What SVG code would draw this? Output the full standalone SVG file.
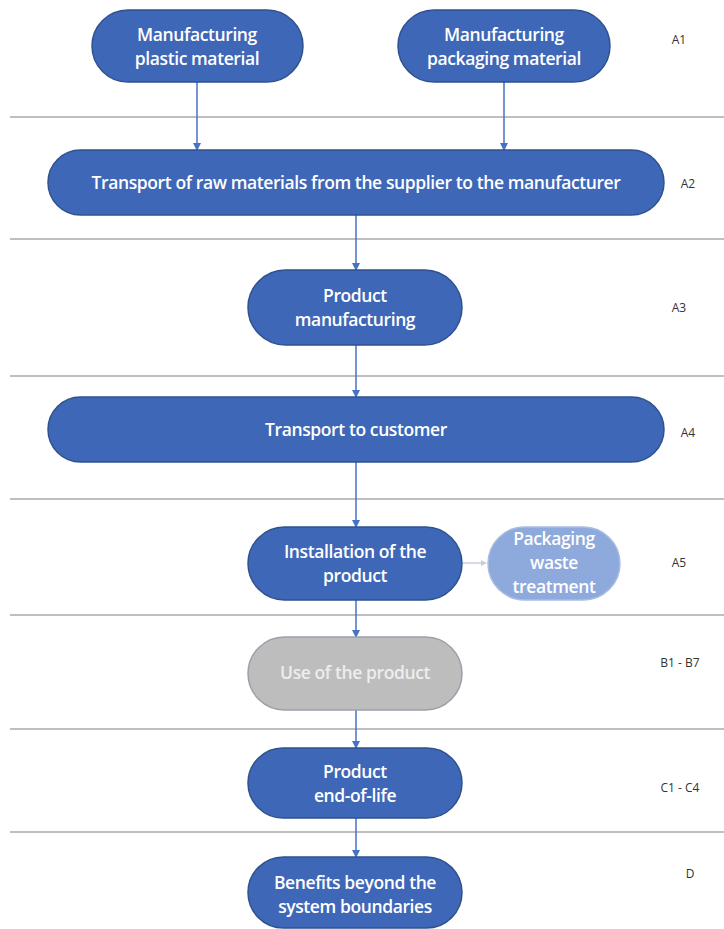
<svg xmlns="http://www.w3.org/2000/svg" width="724" height="929" viewBox="0 0 724 929">
<defs>
<marker id="ah" markerWidth="8" markerHeight="8" refX="7" refY="4" orient="auto" markerUnits="userSpaceOnUse">
<path d="M0,0 L8,4 L0,8 z" fill="#4472C4"/>
</marker>
<marker id="ahg" markerWidth="6" markerHeight="6" refX="5" refY="3" orient="auto" markerUnits="userSpaceOnUse">
<path d="M0,0 L6,3 L0,6 z" fill="#C9CFDA"/>
</marker>
</defs>
<style>
.pill{fill:#3F67B7;stroke:#2F528F;stroke-width:1.5}
.light{fill:#8EA9DB;stroke:#A9BDE3;stroke-width:1.5}
.grey{fill:#BDBDBD;stroke:#9AA0AA;stroke-width:1.5}
.t{font-family:"Open Sans","Liberation Sans",sans-serif;font-size:17.5px;font-weight:600;fill:#FFFFFF;text-anchor:middle;letter-spacing:-0.4px}
.tg{font-family:"Open Sans","Liberation Sans",sans-serif;font-size:17.5px;font-weight:600;fill:#EDEDED;text-anchor:middle;letter-spacing:-0.4px}
.lab{font-family:"Open Sans","Liberation Sans",sans-serif;font-size:12px;fill:#333333;text-anchor:middle}
.sep{stroke:#BFBFBF;stroke-width:2}
.c{stroke:#4472C4;stroke-width:1.5;fill:none;marker-end:url(#ah)}
.cg{stroke:#C9CFDA;stroke-width:1.5;fill:none;marker-end:url(#ahg)}
</style>
<rect width="724" height="929" fill="#FFFFFF"/>
<g id="separators">
<line class="sep" x1="10" y1="117" x2="724" y2="117"/>
<line class="sep" x1="10" y1="239" x2="724" y2="239"/>
<line class="sep" x1="10" y1="376" x2="724" y2="376"/>
<line class="sep" x1="10" y1="499" x2="724" y2="499"/>
<line class="sep" x1="10" y1="615" x2="724" y2="615"/>
<line class="sep" x1="10" y1="729" x2="724" y2="729"/>
<line class="sep" x1="10" y1="832" x2="724" y2="832"/>
</g>
<g id="connectors">
<line class="c" x1="197" y1="82" x2="197" y2="150"/>
<line class="c" x1="504" y1="82" x2="504" y2="150"/>
<line class="c" x1="356" y1="215" x2="356" y2="270"/>
<line class="c" x1="356" y1="345" x2="356" y2="397"/>
<line class="c" x1="356" y1="462" x2="356" y2="527"/>
<line class="c" x1="356" y1="600" x2="356" y2="637"/>
<line class="c" x1="356" y1="710" x2="356" y2="748"/>
<line class="c" x1="356" y1="818" x2="356" y2="857"/>
<line class="cg" x1="463" y1="563" x2="486" y2="563"/>
</g>
<g id="n1"><rect class="pill" x="92" y="10" width="211" height="72" rx="36"/>
<text class="t" x="197" y="41">Manufacturing</text><text class="t" x="197" y="65">plastic material</text></g>
<g id="n2"><rect class="pill" x="398" y="10" width="212" height="72" rx="36"/>
<text class="t" x="504" y="41">Manufacturing</text><text class="t" x="504" y="65">packaging material</text></g>
<g id="n3"><rect class="pill" x="48" y="150" width="616" height="65" rx="32.5"/>
<text class="t" x="356" y="189">Transport of raw materials from the supplier to the manufacturer</text></g>
<g id="n4"><rect class="pill" x="248" y="270" width="214" height="75" rx="37.5"/>
<text class="t" x="355" y="302">Product</text><text class="t" x="355" y="326">manufacturing</text></g>
<g id="n5"><rect class="pill" x="48" y="397" width="616" height="65" rx="32.5"/>
<text class="t" x="356" y="436">Transport to customer</text></g>
<g id="n6"><rect class="pill" x="248" y="527" width="214" height="73" rx="36.5"/>
<text class="t" x="355" y="558">Installation of the</text><text class="t" x="355" y="582">product</text></g>
<g id="n7"><rect class="light" x="488" y="527" width="132" height="73" rx="36.5"/>
<text class="t" x="554" y="545">Packaging</text><text class="t" x="554" y="569">waste</text><text class="t" x="554" y="593">treatment</text></g>
<g id="n8"><rect class="grey" x="248" y="637" width="214" height="73" rx="36.5"/>
<text class="tg" x="355" y="679">Use of the product</text></g>
<g id="n9"><rect class="pill" x="248" y="748" width="214" height="70" rx="35"/>
<text class="t" x="355" y="778">Product</text><text class="t" x="355" y="802">end-of-life</text></g>
<g id="n10"><rect class="pill" x="248" y="857" width="214" height="71" rx="35.5"/>
<text class="t" x="355" y="889">Benefits beyond the</text><text class="t" x="355" y="913">system boundaries</text></g>
<g id="labels">
<text class="lab" x="679" y="44">A1</text>
<text class="lab" x="688" y="188">A2</text>
<text class="lab" x="679" y="312">A3</text>
<text class="lab" x="688" y="437">A4</text>
<text class="lab" x="679" y="567">A5</text>
<text class="lab" x="680" y="667">B1 - B7</text>
<text class="lab" x="680" y="792">C1 - C4</text>
<text class="lab" x="690" y="878">D</text>
</g>
</svg>
